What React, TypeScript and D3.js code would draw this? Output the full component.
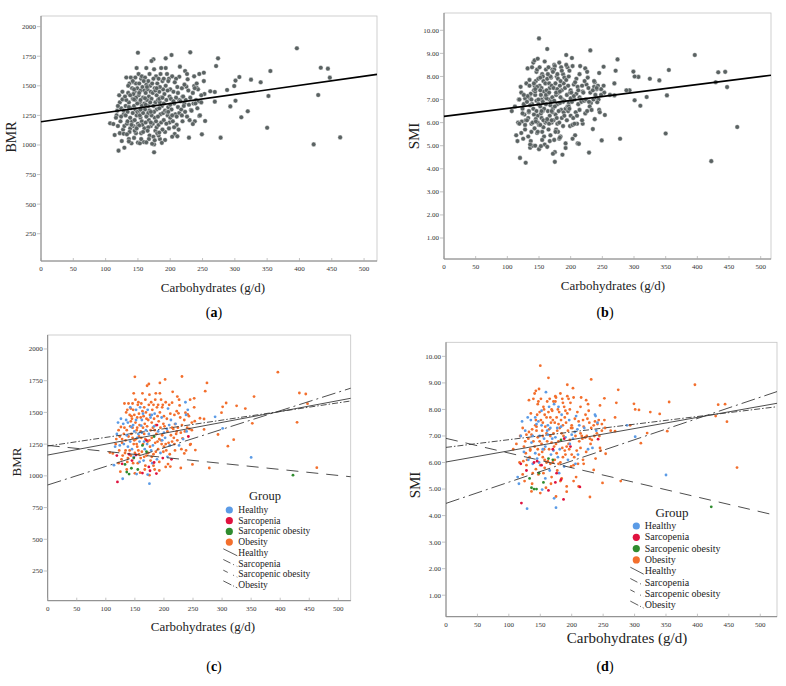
import React from 'react';
import * as d3 from 'd3';

type Row = [number, number, number]; // [carbohydrates g/d, BMR, SMI]

const groupNames = ['Healthy', 'Sarcopenia', 'Sarcopenic obesity', 'Obesity'];
const groupColors = ['#5b9be6', '#e0123f', '#2f8c2f', '#f36f2d'];
const groupDash = ['none', '14 4 2 4', '12 8', '6 2 1.5 2'];

const healthy: Row[] = [
  [350,1145,5.53],[301,1374,6.97],[288,1465,7.4],[114,1084,5.45],[116,1230,5.2],
  [121,1420,7.55],[126,1450,7.2],[129,977,4.26],[124,1240,6.4],[130,1410,7.7],
  [135,1440,7.6],[138,1230,5.95],[131,1250,6.1],[138,1420,7.0],[142,1270,6.35],
  [145,1210,6.15],[147,1400,7.55],[149,1350,7.0],[142,1540,7.7],[148,1150,6.0],
  [152,1520,7.95],[153,1014,4.98],[156,1330,6.9],[158,1270,6.6],[159,1540,8.65],
  [152,1440,7.4],[158,1110,5.4],[162,1440,7.4],[165,1120,5.7],[167,1210,6.3],
  [169,1360,6.9],[162,1340,7.05],[164,1490,8.1],[172,1520,8.2],[174,1330,6.95],
  [175,938,4.3],[178,1200,6.2],[180,1100,5.6],[172,1010,4.65],[177,1460,7.3],
  [181,1240,6.5],[184,1490,7.8],[188,1130,5.85],[190,1350,6.95],[194,1180,6.1],
  [196,1460,7.6],[200,1340,7.05],[202,1300,6.9],[207,1530,7.75],[209,1400,7.25],
  [206,1150,5.95],[212,1440,7.4],[220,1410,7.3],[226,1240,6.5],[233,1290,6.55],
  [238,1480,7.75],[241,1520,7.5],[136,1320,6.75],[154,1300,6.5],[161,1395,7.2],
  [171,1250,6.45],[183,1390,7.35],[197,1280,6.7],[205,1370,7.15],[237,1580,7.8],
  [144,1385,7.45],[166,1270,7.3],[119,1330,7.0],[179,1480,8.1],[239,1350,7.2],
  [210,1240,6.3],
];

const sarcopenia: Row[] = [
  [119,1160,5.95],[120,952,4.47],[140,1170,6.0],[145,1120,6.05],[163,1022,4.95],
  [170,1280,6.5],[174,1070,5.25],[176,1040,5.6],[187,1018,4.61],[188,1400,6.9],
  [198,1140,6.6],[213,1130,5.08],[242,1310,6.88],[128,1095,5.7],[152,1165,5.9],
  [183,1105,5.35],
];

const sarcopenicObesity: Row[] = [
  [133,1090,5.4],[140,1014,5.0],[144,1060,5.0],[155,1050,5.25],[163,1240,6.15],
  [183,1310,6.85],[422,1005,4.33],[148,1140,5.6],[170,1190,6.1],[136,1030,5.05],
];

const obesity: Row[] = [
  [396,1817,8.93],[433,1653,8.18],[444,1645,8.2],[447,1569,7.54],[429,1422,7.75],
  [463,1064,5.81],[355,1625,8.28],[352,1414,7.18],[340,1530,7.83],[325,1552,7.9],
  [320,1285,7.11],[310,1234,6.73],[307,1574,7.98],[301,1544,8.0],[299,1498,8.21],
  [293,1326,7.4],[271,1667,8.25],[269,1448,7.7],[262,1454,7.2],[278,1062,5.3],
  [274,1732,8.74],[269,1366,7.18],[252,1611,8.42],[245,1600,8.15],[252,1540,7.6],
  [253,1431,7.3],[248,1420,7.45],[254,1203,6.33],[249,1090,5.23],[231,1783,9.13],
  [229,1062,4.7],[245,1245,6.55],[238,1200,6.15],[235,1177,5.72],[232,1296,6.85],
  [223,1625,8.35],[215,1662,8.45],[214,1577,8.1],[227,1555,7.95],[237,1498,7.55],
  [225,1493,7.65],[219,1408,7.35],[207,1093,5.45],[211,1073,5.1],[203,1070,5.3],
  [202,1760,8.8],[193,1732,8.93],[174,1724,8.5],[171,1710,8.3],[150,1780,9.65],
  [163,1650,9.19],[192,1042,4.9],[175,1005,4.72],[241,1484,7.45],[222,1350,6.95],
  [107,1183,6.5],[112,1177,6.7],[118,1290,7.0],[117,1250,6.0],
  [122,1360,7.3],[123,1200,6.05],[124,1310,6.6],[125,1033,5.3],[127,1130,6.35],
  [128,1260,5.9],[129,1160,6.1],[126,1385,6.8],[128,1290,7.05],[122,1100,5.55],
  [131,1330,6.9],[132,1570,8.35],[133,1180,6.2],[134,1280,6.45],[136,1050,4.91],
  [136,1360,7.05],[137,1520,7.25],[138,1140,5.6],[139,1570,8.4],[139,1310,6.8],
  [134,1200,6.5],[137,1110,5.2],[135,1500,7.85],[132,1380,7.15],
  [141,1480,8.6],[142,1390,7.4],[143,1530,8.7],[143,1160,5.75],[144,1330,7.2],
  [145,1450,7.8],[146,1570,8.2],[146,1300,6.95],[147,1100,5.55],[148,1650,8.77],
  [148,1250,6.3],[149,1480,7.9],[150,1180,5.9],[150,1020,4.85],[141,1200,6.6],
  [143,1430,7.6],[147,1520,8.3],[149,1280,6.8],[146,1380,6.5],[144,1470,7.35],
  [151,1600,8.4],[151,1420,7.6],[152,1290,6.7],[153,1360,7.2],[154,1230,6.2],
  [154,1460,7.5],[155,1100,5.6],[155,1560,8.1],[156,1200,6.5],[157,1490,7.8],
  [157,1170,5.8],[158,1400,7.35],[159,1025,5.05],[160,1350,7.1],[160,1140,6.0],
  [154,1380,7.0],[156,1580,8.0],[160,1460,7.7],[153,1250,6.4],[157,1310,6.1],
  [161,1570,8.3],[161,1300,6.8],[162,1190,6.05],[163,1510,7.9],[164,1380,7.25],
  [164,1250,6.5],[165,1470,8.4],[166,1330,7.0],[166,1540,7.7],[167,1410,7.5],
  [168,1080,5.45],[168,1290,6.75],[169,1500,7.95],[170,1160,6.0],[170,1450,7.6],
  [166,1150,5.95],[168,1600,8.0],[167,1050,5.2],
  [171,1390,7.1],[172,1270,6.6],[173,1180,6.1],[173,1440,7.5],[175,1640,8.45],
  [176,1230,6.35],[176,1480,7.7],[177,1120,5.7],[177,1360,7.2],[178,1580,8.0],
  [179,1420,7.45],[179,1300,6.8],[180,1520,7.9],[175,1280,6.7],[179,1150,5.95],
  [174,1560,8.3],
  [181,1380,7.3],[182,1560,8.6],[182,1170,6.0],[183,1450,7.6],[184,1050,5.4],
  [185,1260,6.55],[185,1600,8.4],[186,1190,6.2],[186,1400,7.4],[187,1330,7.0],
  [188,1540,8.1],[189,1270,6.45],[189,1470,7.7],[190,1210,6.3],[182,1080,5.3],
  [184,1360,7.1],[186,1650,8.25],[190,1560,7.95],
  [191,1430,7.5],[192,1290,6.6],[193,1500,7.85],[194,1380,7.2],[195,1600,8.4],
  [196,1250,6.5],[197,1320,6.85],[198,1560,8.25],[199,1410,7.3],[200,1230,6.3],
  [192,1110,5.1],[195,1280,6.7],[197,1540,8.0],[199,1190,5.85],[193,1650,8.5],
  [200,1470,7.4],
  [201,1390,7.3],[203,1580,8.45],[204,1200,6.2],[205,1450,7.65],[206,1350,7.0],
  [208,1260,6.45],[210,1170,5.95],[211,1490,7.55],[212,1320,6.8],[214,1380,7.1],
  [203,1250,5.9],[209,1560,7.9],[214,1270,6.55],
  [216,1370,7.0],[217,1300,6.9],[218,1480,7.6],[219,1200,5.95],[221,1330,6.95],
  [222,1510,7.8],[223,1280,6.4],[224,1380,7.0],[228,1460,7.5],[229,1340,6.9],
  [231,1400,7.3],[235,1440,7.4],[236,1350,7.0],[240,1380,7.1],[243,1470,7.6],
  [244,1370,7.0],[246,1250,6.45],[248,1360,7.2],[226,1600,8.2],[218,1250,6.1],
  [230,1210,6.7],
];

const groupsData: Row[][] = [healthy, sarcopenia, sarcopenicObesity, obesity];
const drawOrder = [3, 0, 1, 2];

const xTicks = [0, 50, 100, 150, 200, 250, 300, 350, 400, 450, 500];
const bmrTicks = [250, 500, 750, 1000, 1250, 1500, 1750, 2000];
const smiTicks = [1, 2, 3, 4, 5, 6, 7, 8, 9, 10];

// fit lines: [intercept, slope]
const overallBmrFit = [1197, 0.768];
const overallSmiFit = [6.27, 0.00345];
const groupBmrFits = [[1164, 0.858], [928, 1.463], [1240, -0.474], [1235, 0.681]];
const groupSmiFits = [[6.02, 0.0042], [4.46, 0.008], [6.91, -0.00553], [6.57, 0.00291]];

const FONT = "'Liberation Serif', 'Times New Roman', serif";

type PanelProps = {
  left: number; right: number; top: number; bottom: number;
  xMax: number; yDomain: [number, number];
  metric: 1 | 2; colored: boolean;
  yTicks: number[]; yFmt: (v: number) => string;
  yLabel: string; yLabelX: number; yLabelY: number; yLabelSize: number;
  xLabelX: number; xLabelY: number; xLabelSize: number;
  letter: string; letterX: number; letterY: number;
  fits: number[][];
  legend?: { titleX: number; titleY: number; dotX: number; textX: number; rowY0: number; rowStep: number; fontSize: number; titleSize: number };
};

function Panel(p: PanelProps) {
  const x = d3.scaleLinear().domain([0, p.xMax]).range([p.left, p.right]);
  const y = d3.scaleLinear().domain(p.yDomain).range([p.bottom, p.top]);
  const pts: { cx: number; cy: number; g: number }[] = [];
  drawOrder.forEach((g) => {
    groupsData[g].forEach((r) => pts.push({ cx: x(r[0]), cy: y(r[p.metric]), g }));
  });
  const L = p.legend;
  return (
    <g>
      <rect x={p.left} y={p.top} width={p.right - p.left} height={p.bottom - p.top} fill="#fff" stroke="#c4c4c4" strokeWidth={0.8} />
      <line x1={p.left} x2={p.left} y1={p.top} y2={p.bottom} stroke="#7a7a7a" strokeWidth={0.9} />
      <line x1={p.left} x2={p.right} y1={p.bottom} y2={p.bottom} stroke="#7a7a7a" strokeWidth={0.9} />
      {xTicks.map((t) => (
        <g key={'x' + t}>
          <line x1={x(t)} x2={x(t)} y1={p.bottom} y2={p.bottom - 3} stroke="#aaa" strokeWidth={0.7} />
          <text x={x(t)} y={p.bottom + 10} fontSize={7} textAnchor="middle" fill="#333" fontFamily={FONT}>{t}</text>
        </g>
      ))}
      {p.yTicks.map((t) => (
        <g key={'y' + t}>
          <line x1={p.left - 4} x2={p.left} y1={y(t)} y2={y(t)} stroke="#aaa" strokeWidth={0.7} />
          <text x={p.left - 5} y={y(t) + 2.4} fontSize={7} textAnchor="end" fill="#333" fontFamily={FONT}>{p.yFmt(t)}</text>
        </g>
      ))}
      {pts.map((d, i) =>
        p.colored ? (
          <circle key={i} cx={d.cx} cy={d.cy} r={1.4} fill={groupColors[d.g]} />
        ) : (
          <circle key={i} cx={d.cx} cy={d.cy} r={2.3} fill="#5a6262" stroke="#f4f4f4" strokeWidth={0.4} />
        )
      )}
      {p.fits.map((f, i) => (
        <line key={'f' + i}
          x1={x(0)} y1={y(f[0])} x2={x(p.xMax)} y2={y(f[0] + f[1] * p.xMax)}
          stroke={p.colored ? '#3a3a3a' : '#000'}
          strokeWidth={p.colored ? 0.9 : 1.6}
          strokeDasharray={p.colored ? groupDash[i] : 'none'} />
      ))}
      <text transform={`translate(${p.yLabelX},${p.yLabelY}) rotate(-90)`} fontSize={p.yLabelSize} textAnchor="middle" fontFamily={FONT} fill="#222">{p.yLabel}</text>
      <text x={p.xLabelX} y={p.xLabelY} fontSize={p.xLabelSize} textAnchor="middle" fontFamily={FONT} fill="#222">Carbohydrates (g/d)</text>
      <text x={p.letterX} y={p.letterY} fontSize={14} textAnchor="middle" fontFamily={FONT} fill="#000">(<tspan fontWeight="bold">{p.letter}</tspan>)</text>
      {L && (
        <g fontFamily={FONT} fill="#222">
          <text x={L.titleX} y={L.titleY} fontSize={L.titleSize} textAnchor="middle">Group</text>
          {groupNames.map((n, i) => (
            <g key={'ld' + i}>
              <circle cx={L.dotX} cy={L.rowY0 + i * L.rowStep} r={3.6} fill={groupColors[i]} />
              <text x={L.textX} y={L.rowY0 + i * L.rowStep + 3} fontSize={L.fontSize}>{n}</text>
            </g>
          ))}
          {groupNames.map((n, i) => {
            const cy = L.rowY0 + (i + 4) * L.rowStep;
            return (
              <g key={'ll' + i}>
                <line x1={L.dotX - 6} y1={cy - 4} x2={L.textX - 1} y2={cy + 3} stroke="#333" strokeWidth={0.8} strokeDasharray={i === 0 ? 'none' : i === 1 ? '8 3 1 3' : i === 2 ? '5 6 1 3' : '9 2 1 2'} />
                <text x={L.textX} y={cy + 3} fontSize={L.fontSize}>{n}</text>
              </g>
            );
          })}
        </g>
      )}
    </g>
  );
}

const fmtInt = (v: number) => String(v);
const fmt2 = (v: number) => v.toFixed(2);

export default function App() {
  return (
    <svg width={786} height={686} style={{ position: 'absolute', left: 0, top: 0, background: '#fff' }}>
      <rect x={0} y={0} width={786} height={686} fill="#fff" />
      <Panel left={41} right={377} top={16} bottom={261} xMax={520} yDomain={[19.5, 2090]} metric={1} colored={false}
        yTicks={bmrTicks} yFmt={fmtInt} yLabel="BMR" yLabelX={16} yLabelY={137} yLabelSize={14}
        xLabelX={213} xLabelY={292} xLabelSize={13} letter="a" letterX={214} letterY={317}
        fits={[overallBmrFit]} />
      <Panel left={444} right={771} top={13} bottom={259} xMax={516.3} yDomain={[0.09, 10.75]} metric={2} colored={false}
        yTicks={smiTicks} yFmt={fmt2} yLabel="SMI" yLabelX={419} yLabelY={136} yLabelSize={15}
        xLabelX={613} xLabelY={290} xLabelSize={13} letter="b" letterX={605} letterY={317}
        fits={[overallSmiFit]} />
      <Panel left={47.7} right={350.7} top={335} bottom={600.7} xMax={521.3} yDomain={[16, 2110]} metric={1} colored={true}
        yTicks={bmrTicks} yFmt={fmtInt} yLabel="BMR" yLabelX={21} yLabelY={462} yLabelSize={13}
        xLabelX={203} xLabelY={631} xLabelSize={13} letter="c" letterX={214} letterY={671}
        fits={groupBmrFits}
        legend={{ titleX: 265, titleY: 500, dotX: 229.3, textX: 238.3, rowY0: 510, rowStep: 10.7, fontSize: 9.5, titleSize: 12.5 }} />
      <Panel left={446} right={777} top={342.3} bottom={616.7} xMax={526.6} yDomain={[0.19, 10.53]} metric={2} colored={true}
        yTicks={smiTicks} yFmt={fmt2} yLabel="SMI" yLabelX={420} yLabelY={485} yLabelSize={15}
        xLabelX={627} xLabelY={643} xLabelSize={15} letter="d" letterX={605} letterY={671}
        fits={groupSmiFits}
        legend={{ titleX: 672, titleY: 517, dotX: 636.3, textX: 644.7, rowY0: 526, rowStep: 11.3, fontSize: 10, titleSize: 13 }} />
    </svg>
  );
}
